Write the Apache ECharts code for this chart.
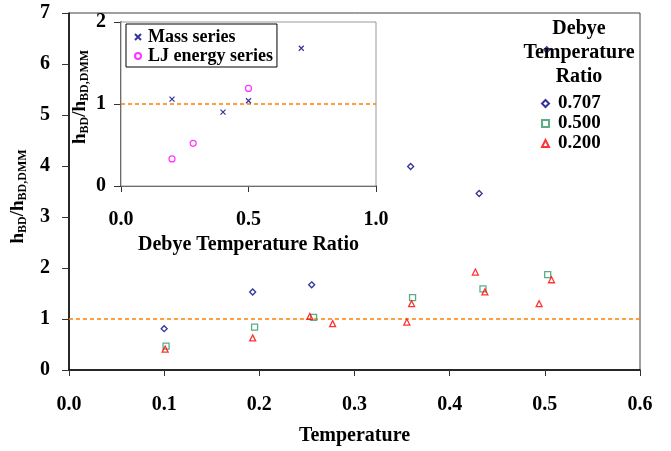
<!DOCTYPE html>
<html>
<head>
<meta charset="utf-8">
<script src="https://cdn.jsdelivr.net/npm/echarts@6/dist/echarts.min.js"></script>
<style>
html,body{margin:0;padding:0;background:#fff;}
#chart{width:671px;height:451px;}
</style>
</head>
<body>
<div id="chart"></div>
<script>
// ---- data (main chart) ----
var temp707 = [0.100, 0.193, 0.255, 0.359, 0.431, 0.502];
var ratio707 = [0.81, 1.53, 1.67, 3.99, 3.46, 6.28];
var temp500 = [0.102, 0.195, 0.257, 0.361, 0.435, 0.503];
var ratio500 = [0.47, 0.84, 1.03, 1.42, 1.59, 1.87];
var temp200 = [0.101, 0.193, 0.253, 0.277, 0.355, 0.360, 0.427, 0.437, 0.494, 0.507];
var ratio200 = [0.41, 0.63, 1.05, 0.91, 0.94, 1.30, 1.92, 1.53, 1.30, 1.77];
var seriesNames = ['0.707', '0.500', '0.200'];
// ---- data (inset) ----
var massX = [0.2, 0.4, 0.5, 0.707];
var massY = [1.06, 0.90, 1.04, 1.68];
var ljX = [0.2, 0.283, 0.5];
var ljY = [0.33, 0.52, 1.19];
var insetNames = ['Mass series', 'LJ energy series'];
// ---- ticks / labels ----
var mainXTicks = {min: 0, max: 0.6, interval: 0.1};
var mainYTicks = {min: 0, max: 7, interval: 1};
var insetXTicks = {min: 0, max: 1, interval: 0.5};
var insetYTicks = {min: 0, max: 2, interval: 1};
var refValue = 1;
var mainXTitle = 'Temperature';
var insetXTitle = 'Debye Temperature Ratio';
var legendTitle = 'Debye\nTemperature\nRatio';

function zip(a, b) { return a.map(function (v, i) { return [v, b[i]]; }); }

var FONT = "'Liberation Serif','Times New Roman',serif";
var yName = '{h|h}{s|BD}{h|/h}{s|BD,DMM}';
function yNameStyle(pad) {
  return {
    padding: pad,
    rich: {
      h: {fontSize: 19, fontWeight: 'bold', fontFamily: FONT, color: '#000', lineHeight: 22},
      s: {fontSize: 12, fontWeight: 'bold', fontFamily: FONT, color: '#000', verticalAlign: 'bottom', lineHeight: 12}
    }
  };
}
var tickLabel = {color: '#000', fontSize: 20, fontWeight: 'bold', fontFamily: FONT};
var ORANGE = '#FF8000';

var chart = echarts.init(document.getElementById('chart'), null, {renderer: 'canvas'});

function refSeries(xi, ticks, z) {
  return {
    name: 'ref' + xi, type: 'line', xAxisIndex: xi, yAxisIndex: xi, z: z,
    silent: true, showSymbol: false, symbol: 'none',
    data: [[ticks.min, refValue], [ticks.max, refValue]],
    lineStyle: {color: ORANGE, type: [4, 3], width: 1.3},
    itemStyle: {color: ORANGE}
  };
}

var option = {
  backgroundColor: '#fff',
  animation: false,
  graphic: [{
    type: 'text', x: 579, y: 17, z: 10,
    style: {
      text: legendTitle, fill: '#000', align: 'center', textAlign: 'center', verticalAlign: 'top',
      fontSize: 20, fontWeight: 'bold', fontFamily: FONT, lineHeight: 24
    }
  }],
  grid: [
    {left: 69, top: 13, width: 571, height: 361, show: true, borderColor: '#404040', borderWidth: 1, backgroundColor: '#fff'},
    {left: 121, top: 22, width: 255, height: 164, show: true, borderColor: '#999', borderWidth: 1, backgroundColor: '#fff', z: 3}
  ],
  legend: [
    {
      data: seriesNames, orient: 'vertical', left: 541, top: 94, padding: 0,
      itemWidth: 7, itemHeight: 7, itemGap: 1,
      textStyle: {fontSize: 19, fontWeight: 'bold', fontFamily: FONT, color: '#000', padding: [0, 0, 0, 4]}
    },
    {
      data: insetNames, orient: 'vertical', left: 126, top: 24, padding: [4, 4, 2, 8],
      itemWidth: 10, itemHeight: 6, itemGap: 1, z: 8,
      borderColor: '#000', borderWidth: 1, backgroundColor: '#fff',
      textStyle: {fontSize: 18, fontWeight: 'bold', fontFamily: FONT, color: '#000'}
    }
  ],
  xAxis: [
    {
      gridIndex: 0, type: 'value', min: mainXTicks.min, max: mainXTicks.max, interval: mainXTicks.interval,
      name: mainXTitle, nameLocation: 'middle', nameGap: 56,
      nameTextStyle: {fontSize: 20, fontWeight: 'bold', fontFamily: FONT, color: '#000'},
      axisLine: {onZero: false, lineStyle: {color: '#000', width: 1.5}},
      axisTick: {show: true, length: 6, lineStyle: {color: '#333'}},
      axisLabel: Object.assign({margin: 25, formatter: function (v) { return v.toFixed(1); }}, tickLabel),
      splitLine: {show: false}
    },
    {
      gridIndex: 1, type: 'value', min: insetXTicks.min, max: insetXTicks.max, interval: insetXTicks.interval,
      name: insetXTitle, nameLocation: 'middle', nameGap: 49,
      nameTextStyle: {fontSize: 20, fontWeight: 'bold', fontFamily: FONT, color: '#000'},
      axisLine: {onZero: false, lineStyle: {color: '#000', width: 1.5}},
      axisTick: {show: true, length: 6, lineStyle: {color: '#333'}},
      axisLabel: Object.assign({margin: 24, formatter: function (v) { return v.toFixed(1); }}, tickLabel),
      splitLine: {show: false}
    }
  ],
  yAxis: [
    {
      gridIndex: 0, type: 'value', min: mainYTicks.min, max: mainYTicks.max, interval: mainYTicks.interval,
      name: yName, nameLocation: 'middle', nameGap: 40, nameRotate: 90,
      nameTextStyle: yNameStyle([0, 10, 0, 0]),
      axisLine: {onZero: false, lineStyle: {color: '#000', width: 1.5}},
      axisTick: {show: true, length: 7, lineStyle: {color: '#333'}},
      axisLabel: Object.assign({margin: 19}, tickLabel),
      splitLine: {show: false}
    },
    {
      gridIndex: 1, type: 'value', min: insetYTicks.min, max: insetYTicks.max, interval: insetYTicks.interval,
      name: yName, nameLocation: 'middle', nameGap: 30, nameRotate: 90,
      nameTextStyle: yNameStyle([0, 0, 0, 14]),
      axisLine: {onZero: false, lineStyle: {color: '#000', width: 1.5}},
      axisTick: {show: true, length: 7, lineStyle: {color: '#333'}},
      axisLabel: Object.assign({margin: 15}, tickLabel),
      splitLine: {show: false}
    }
  ],
  series: [
    refSeries(0, mainXTicks, 1),
    refSeries(1, insetXTicks, 4),
    {
      name: seriesNames[0], type: 'scatter', xAxisIndex: 0, yAxisIndex: 0,
      symbol: 'diamond', symbolSize: 6, data: zip(temp707, ratio707),
      itemStyle: {color: 'rgba(0,0,0,0)', borderColor: '#000080', borderWidth: 1.3}
    },
    {
      name: seriesNames[1], type: 'scatter', xAxisIndex: 0, yAxisIndex: 0,
      symbol: 'rect', symbolSize: 6, data: zip(temp500, ratio500),
      itemStyle: {color: 'rgba(0,0,0,0)', borderColor: '#339966', borderWidth: 1.3}
    },
    {
      name: seriesNames[2], type: 'scatter', xAxisIndex: 0, yAxisIndex: 0,
      symbol: 'triangle', symbolSize: 6, data: zip(temp200, ratio200),
      itemStyle: {color: 'rgba(0,0,0,0)', borderColor: '#FF0000', borderWidth: 1.3}
    },
    {
      name: insetNames[0], type: 'scatter', xAxisIndex: 1, yAxisIndex: 1, z: 5,
      symbol: 'path://M0,0L10,10M10,0L0,10', symbolSize: 5, data: zip(massX, massY),
      itemStyle: {color: 'rgba(0,0,0,0)', borderColor: '#000080', borderWidth: 1.2}
    },
    {
      name: insetNames[1], type: 'scatter', xAxisIndex: 1, yAxisIndex: 1, z: 5,
      symbol: 'circle', symbolSize: 6, data: zip(ljX, ljY),
      itemStyle: {color: 'rgba(0,0,0,0)', borderColor: '#FF00FF', borderWidth: 1.2}
    }
  ]
};
chart.setOption(option);
</script>
</body>
</html>
